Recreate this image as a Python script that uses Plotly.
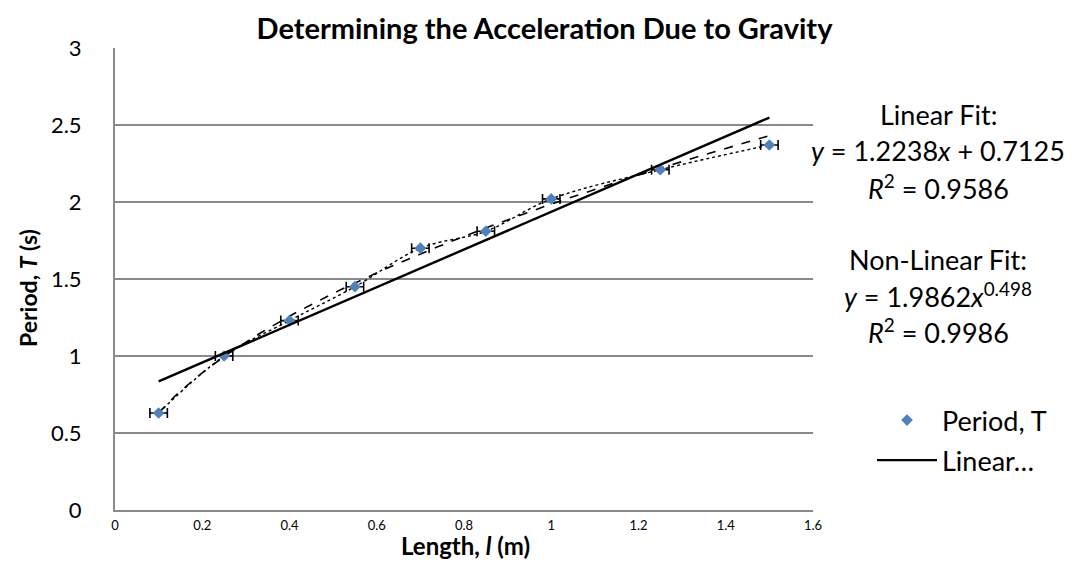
import numpy as np
import plotly.graph_objects as go

# Data
length_m = [0.10, 0.25, 0.40, 0.55, 0.70, 0.85, 1.00, 1.25, 1.50]
period_s = [0.63, 1.00, 1.23, 1.45, 1.70, 1.81, 2.02, 2.21, 2.37]
length_err = [0.02] * len(length_m)

# Fit coefficients shown on the chart
lin_slope, lin_intercept = 1.2238, 0.7125
pow_coef, pow_exp = 1.9862, 0.498

x_ticks = [0, 0.2, 0.4, 0.6, 0.8, 1, 1.2, 1.4, 1.6]
y_ticks = [0, 0.5, 1, 1.5, 2, 2.5, 3]

FONT = "Lato"
GRID = "#8a8a8a"

# plot area in pixels
L, R, T, B = 107, 805, 40, 502
W, H = 1073, 561


def px(x):
    return (x - L) / (R - L)


def py(y):
    return (B - y) / (B - T)


xs = np.linspace(min(length_m), max(length_m), 120)

fig = go.Figure()

# power trendline (dashed)
fig.add_trace(go.Scatter(
    x=xs, y=pow_coef * xs ** pow_exp, mode="lines",
    line=dict(color="black", width=1.6, dash="dash"),
    showlegend=False, hoverinfo="skip"))

# smoothed dashed line through points
fig.add_trace(go.Scatter(
    x=length_m, y=period_s, mode="lines",
    line=dict(color="black", width=1.4, dash="dot", shape="spline"),
    showlegend=False, hoverinfo="skip"))

# data with error bars
fig.add_trace(go.Scatter(
    x=length_m, y=period_s, mode="markers", name="Period, T",
    legendgroup="a",
    marker=dict(symbol="diamond", size=9, color="#4F81BD"),
    error_x=dict(type="data", array=length_err, color="black",
                 thickness=1.6, width=5)))

# linear trendline
fig.add_trace(go.Scatter(
    x=[min(length_m), max(length_m)],
    y=[lin_slope * min(length_m) + lin_intercept,
       lin_slope * max(length_m) + lin_intercept],
    mode="lines", name="Linear…", legendgroup="b",
    line=dict(color="black", width=2.4)))

ann_font = dict(family=FONT, size=27, color="black")
texts = [
    ("Linear Fit:", 106),
    ("<i>y</i> = 1.2238<i>x</i> + 0.7125", 143),
    ("<i>R</i><sup>2</sup> = 0.9586", 179),
    ("Non-Linear Fit:", 251),
    ("<i>y</i> = 1.9862<i>x</i><sup>0.498</sup>", 287),
    ("<i>R</i><sup>2</sup> = 0.9986", 323),
]
annotations = []
for t, yy in texts:
    annotations.append(dict(
        text=t, xref="paper", yref="paper",
        x=px(930), y=py(yy),
        xanchor="center", yanchor="middle", showarrow=False, font=ann_font))

# y-axis title
annotations.append(dict(
    text="<b>Period, <i>T</i> (s)</b>", xref="paper", yref="paper",
    x=px(20), y=py(280), xanchor="center", yanchor="middle",
    textangle=-90, showarrow=False,
    font=dict(family=FONT, size=23, color="black")))

# x-axis title
annotations.append(dict(
    text="<b>Length, <i>l</i> (m)</b>", xref="paper", yref="paper",
    x=px(457), y=py(537), xanchor="center", yanchor="middle",
    showarrow=False, font=dict(family=FONT, size=24, color="black")))

fig.update_layout(
    width=W, height=H,
    margin=dict(l=L, r=W - R, t=T, b=H - B),
    paper_bgcolor="white", plot_bgcolor="white",
    title=dict(text="<b>Determining the Acceleration Due to Gravity</b>",
               x=0.5, xanchor="center", y=1 - 21 / H, yanchor="middle",
               font=dict(family=FONT, size=29, color="black")),
    font=dict(family=FONT, color="black"),
    xaxis=dict(range=[0, 1.6], tickvals=x_ticks,
               ticktext=[f"{v:g}" for v in x_ticks],
               tickfont=dict(size=13, family=FONT), showgrid=False,
               showline=True, linecolor=GRID, linewidth=2, zeroline=False,
               ticks="", ticklabelstandoff=2),
    yaxis=dict(range=[0, 3], tickvals=y_ticks,
               ticktext=[f"{v:g}" for v in y_ticks],
               tickfont=dict(size=22, family=FONT), showgrid=True,
               gridcolor=GRID, gridwidth=1.8, showline=True, linecolor=GRID,
               linewidth=2, zeroline=False, ticks="", ticklabelstandoff=27),
    legend=dict(x=px(864), y=py(388), xanchor="left",
                yanchor="top", font=dict(size=27, family=FONT),
                bgcolor="rgba(0,0,0,0)", itemwidth=60, tracegroupgap=2),
    annotations=annotations,
)

fig.write_html("out.html")
